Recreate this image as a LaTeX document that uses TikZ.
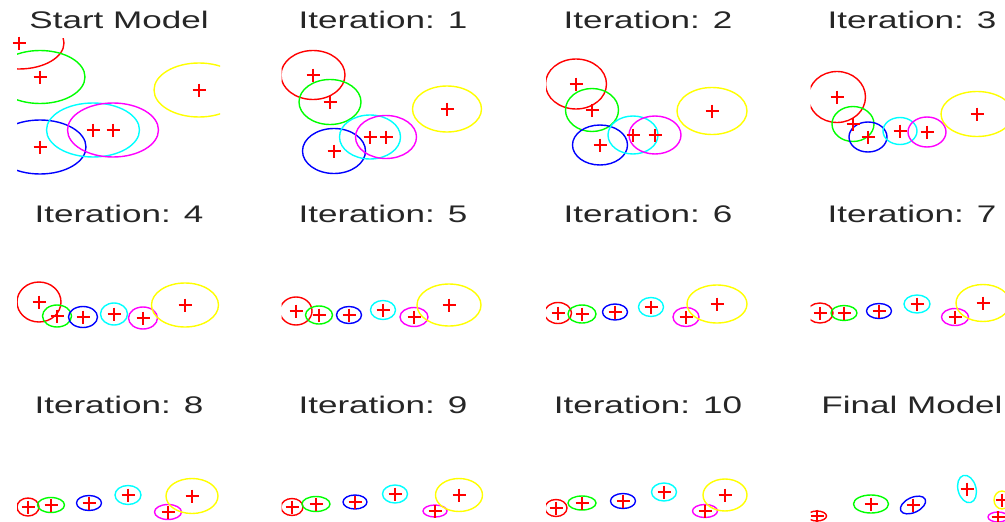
\documentclass[tikz,border=0pt]{standalone}
\usepackage{fontspec}
\setmainfont{Liberation Sans}
\definecolor{cred}{rgb}{1,0,0}
\definecolor{cgreen}{rgb}{0,1,0}
\definecolor{cblue}{rgb}{0,0,1}
\definecolor{ccyan}{rgb}{0,1,1}
\definecolor{cmagenta}{rgb}{1,0,1}
\definecolor{cyellow}{rgb}{1,1,0}

\begin{document}
\begin{tikzpicture}[x=1pt,y=-1pt,
    title/.style={font=\fontsize{24}{24}\selectfont, xscale=1.46, anchor=base, inner sep=0pt, text=black!85},
    blob/.style={line width=1.4pt},
    meanplus/.style={cred, line width=2.8pt}]
  \useasboundingbox (0,0) rectangle (1005,522);
  \foreach \n/\x/\y/\txt in {t0/119/28/Start Model, t1/383/28/Iteration: 1, t2/648/28/Iteration: 2, t3/912/28/Iteration: 3,
                             t4/119/222/Iteration: 4, t5/383/222/Iteration: 5, t6/648/222/Iteration: 6, t7/912/222/Iteration: 7,
                             t8/119/413/Iteration: 8, t9/383/413/Iteration: 9, t10/648/413/Iteration: 10, t11/912/413/Final Model}
    \node[title] (\n) at (\x,\y) {\txt};
  \foreach \c/\r/\data in {
      0/0/{19/43/45/26/0/cred, 40/77/45/26.5/0/cgreen, 40/147/46/27/0/cblue, 93/130/46.5/27/0/ccyan, 113/130/45.5/27/0/cmagenta, 199/90/45/27/0/cyellow},
      1/0/{313/75/32/24.5/0/cred, 330/102/31/22.5/0/cgreen, 334/151/31.5/22.5/0/cblue, 370/137/30.5/22/0/ccyan, 386/137/30.5/21.5/0/cmagenta, 447/109/34.5/23/0/cyellow},
      2/0/{576/84/30.5/25/0/cred, 592/110/26.5/21.5/0/cgreen, 600/145/27.5/20/0/cblue, 633/135/25/19/0/ccyan, 655/135/26/19/0/cmagenta, 712/111/35/23.5/0/cyellow},
      3/0/{837/97/28.5/25.5/0/cred, 853/124/21/17.5/0/cgreen, 868/137/19/15/0/cblue, 900/131/17/13.5/0/ccyan, 927/132/19/15/0/cmagenta, 977/114/36/22.5/0/cyellow},
      0/1/{39/302/22/20/0/cred, 57/316/14.5/11/0/cgreen, 83/317/14.5/10.5/0/cblue, 114/314/13.5/11/0/ccyan, 143/318/14.5/11/0/cmagenta, 185/305/33.5/22/0/cyellow},
      1/1/{296/311/16/14/0/cred, 319/315/13.5/9/0/cgreen, 349/315/12.5/8.5/0/cblue, 383/310/12.5/9.5/0/ccyan, 414/317/14/9.5/0/cmagenta, 449/305/32/21/0/cyellow},
      2/1/{558/313/13.5/10.5/0/cred, 582/314/14/9/0/cgreen, 615/312/12.5/8/0/cblue, 651/307/12.5/9.5/0/ccyan, 686/317/13/9.5/0/cmagenta, 717/304/30/19/0/cyellow},
      3/1/{820/313/13/10/0/cred, 844/313/13/7.5/0/cgreen, 879/311/12.5/7.5/0/cblue, 917/304/13/9/0/ccyan, 955/317/13.5/8.5/0/cmagenta, 983/303/27/18.5/0/cyellow},
      0/2/{28/507/11/9/0/cred, 51/505/13.5/7.5/0/cgreen, 89/503/12.5/7.5/0/cblue, 128/495/13/9.5/0/ccyan, 168/512/13.5/7.5/0/cmagenta, 192/496/26/17.5/0/cyellow},
      1/2/{292/507/11/8.5/0/cred, 316/504/14/7.5/0/cgreen, 355/502/12/7/0/cblue, 395/494/12.5/9/0/ccyan, 435/511/12/6/0/cmagenta, 459/495/23.5/16.5/0/cyellow},
      2/2/{556/508/11/8.5/0/cred, 582/503/14/7/0/cgreen, 623/501/12.5/7.5/0/cblue, 664/492/12.5/9/0/ccyan, 705/511/12.5/6.5/0/cmagenta, 725/495/22/16/0/cyellow},
      3/2/{817/516/9.5/5/0/cred, 871/504/17.5/9/0/cgreen, 913/505/13.5/7.5/25/cblue, 967/489/9/14/15/ccyan, 1002/500/8/9/0/cyellow, 998/517/10/5/0/cmagenta}} {
    \begin{scope}
      \clip (17+264.5*\c,38+193*\r) rectangle (220+264.5*\c,190+193*\r);
      \foreach \cx/\cy/\rx/\ry/\ang/\col in \data
        \draw[blob, \col, rotate around={\ang:(\cx,\cy)}] (\cx,\cy) ellipse [x radius=\rx, y radius=\ry];
    \end{scope}
    \foreach \cx/\cy/\rx/\ry/\ang/\col in \data
      \draw[meanplus] (\cx-6.5,\cy) -- (\cx+6.5,\cy) (\cx,\cy-6.5) -- (\cx,\cy+6.5);
  }
\end{tikzpicture}
\end{document}
